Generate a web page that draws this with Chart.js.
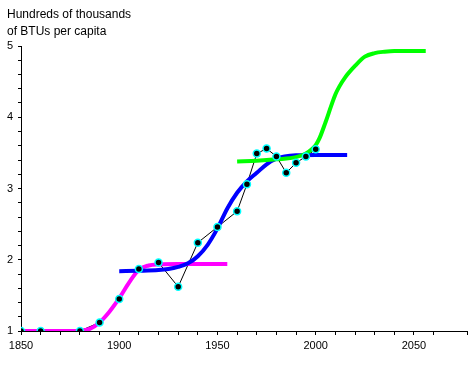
<!DOCTYPE html>
<html>
<head>
<meta charset="utf-8">
<script src="https://cdn.jsdelivr.net/npm/chart.js@4"></script>
<style>
  body { margin: 0; background: #fff; }
  #wrap { position: relative; width: 471px; height: 365px; }
  #title {
    position: absolute; left: 7px; top: 6px;
    font: 12px "Liberation Sans", Arial, sans-serif; line-height: 17px; color: #000;
  }
</style>
</head>
<body>
<div id="wrap">
  <canvas id="energyChart" width="471" height="365"></canvas>
  <div id="title">Hundreds of thousands<br>of BTUs per capita</div>
</div>
<script>
// Observed data points (black dots)
const pointYears = [1850, 1860, 1880, 1890, 1900, 1910, 1920, 1930, 1940, 1950, 1960, 1965, 1970, 1975, 1980, 1985, 1990, 1995, 2000];
const pointValues = [1.0, 1.0, 1.0, 1.12, 1.45, 1.87, 1.96, 1.62, 2.24, 2.46, 2.68, 3.06, 3.49, 3.56, 3.45, 3.22, 3.36, 3.45, 3.55];

// Fitted curves, values
const magentaYears = [1850, 1860, 1870, 1880, 1885, 1890, 1895, 1900, 1905, 1910, 1915, 1920, 1930, 1955];
const magentaValues = [1.0, 1.0, 1.0, 1.005, 1.03, 1.12, 1.27, 1.46, 1.68, 1.86, 1.92, 1.935, 1.94, 1.94];

const blueYears = [1900, 1910, 1920, 1925, 1930, 1935, 1940, 1945, 1950, 1955, 1960, 1965, 1970, 1975, 1980, 1990, 2000, 2016];
const blueValues = [1.84, 1.845, 1.855, 1.87, 1.90, 1.95, 2.05, 2.21, 2.44, 2.72, 2.94, 3.10, 3.22, 3.34, 3.42, 3.465, 3.47, 3.47];

const greenYears = [1960, 1970, 1980, 1990, 1995, 1998, 2000, 2002, 2005, 2008, 2010, 2012, 2015, 2020, 2025, 2030, 2035, 2040, 2056];
const greenValues = [3.38, 3.39, 3.41, 3.44, 3.49, 3.55, 3.61, 3.71, 3.93, 4.17, 4.32, 4.43, 4.56, 4.72, 4.85, 4.90, 4.92, 4.93, 4.93];

// Axis ticks
const xLabelYears = [1850, 1900, 1950, 2000, 2050];
const yLabelValues = [1, 2, 3, 4, 5];

function toXY(xs, ys) {
  return xs.map((x, i) => ({ x: x, y: ys[i] }));
}

function curve(xs, ys, color, order) {
  return {
    data: toXY(xs, ys),
    borderColor: color,
    borderWidth: 4,
    pointRadius: 0,
    cubicInterpolationMode: "monotone",
    fill: false,
    order: order,
  };
}

Chart.defaults.font.family = "'Liberation Sans', Arial, sans-serif";
Chart.defaults.font.size = 11;
Chart.defaults.color = "#000";

const ctx = document.getElementById("energyChart").getContext("2d");
new Chart(ctx, {
  type: "line",
  data: {
    datasets: [
      // thin black line joining the data points
      {
        data: toXY(pointYears, pointValues),
        borderColor: "#000",
        borderWidth: 1,
        pointRadius: 0,
        tension: 0,
        order: 5,
      },
      curve(magentaYears, magentaValues, "#ff00ff", 4),
      curve(blueYears, blueValues, "#0000ff", 3),
      curve(greenYears, greenValues, "#00ff00", 2),
      // the dots on top
      {
        data: toXY(pointYears, pointValues),
        showLine: false,
        pointRadius: 3.5,
        pointStyle: "circle",
        pointBackgroundColor: "#000",
        pointBorderColor: "#00ffff",
        pointBorderWidth: 1.5,
        order: 1,
      },
    ],
  },
  options: {
    responsive: false,
    animation: false,
    layout: { autoPadding: false, padding: { top: 46, right: 0, left: 0, bottom: 0 } },
    plugins: {
      legend: { display: false },
      tooltip: { enabled: false },
    },
    scales: {
      x: {
        type: "linear",
        min: 1850,
        max: 2077,
        grid: { drawOnChartArea: false, tickLength: 4, tickColor: "#000" },
        border: { color: "#000", width: 1 },
        ticks: {
          stepSize: 10,
          autoSkip: false,
          maxRotation: 0,
          padding: 4,
          callback: (v) => (xLabelYears.includes(v) ? String(v) : ""),
        },
        afterFit: (scale) => {
          scale.height = 34;
        },
      },
      y: {
        min: 1,
        max: 5,
        grid: { drawOnChartArea: false, tickLength: 3, tickColor: "#000" },
        border: { color: "#000", width: 1 },
        ticks: {
          stepSize: 0.2,
          autoSkip: false,
          padding: 5,
          callback: (v) => {
            const r = Math.round(v);
            return Math.abs(v - r) < 1e-6 && yLabelValues.includes(r) ? String(r) : "";
          },
        },
        afterFit: (scale) => {
          scale.width = 21;
        },
      },
    },
  },
});
</script>
</body>
</html>
